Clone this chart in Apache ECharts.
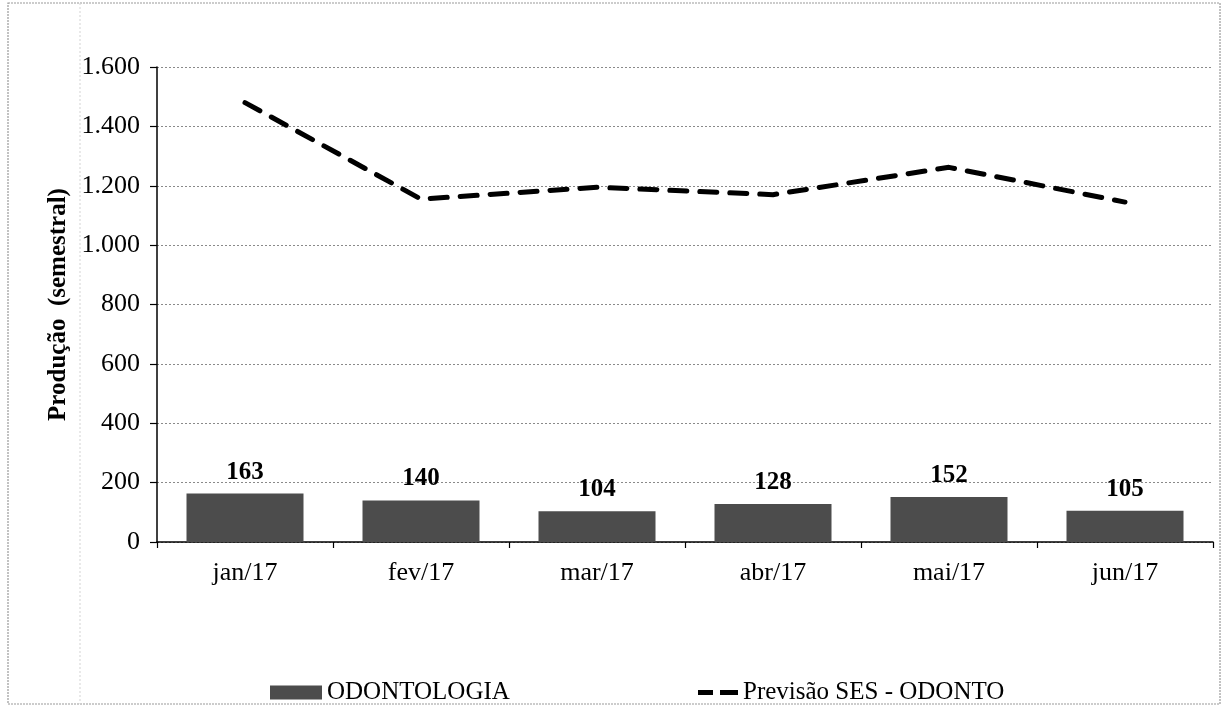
<!DOCTYPE html>
<html>
<head>
<meta charset="utf-8">
<script src="https://cdn.jsdelivr.net/npm/echarts@6/dist/echarts.min.js"></script>
<style>
html,body{margin:0;padding:0;background:#fff;}
#chart{width:1226px;height:708px;}
</style>
</head>
<body>
<div id="chart"></div>
<script>
const categories = ['jan/17', 'fev/17', 'mar/17', 'abr/17', 'mai/17', 'jun/17'];
const odontologia = [163, 140, 104, 128, 152, 105];
const previsao = [1480, 1155, 1195, 1170, 1262, 1145];
const yTicks = { min: 0, max: 1600, interval: 200 };
const seriesNames = ['ODONTOLOGIA', 'Previsão SES - ODONTO'];
const yTitle = 'Produção  (semestral)';

const FONT = '"Liberation Serif", "DejaVu Serif", serif';
const chart = echarts.init(document.getElementById('chart'), null, { renderer: 'canvas' });

function fmt(v) {
  return String(v).replace(/\B(?=(\d{3})+(?!\d))/g, '.');
}

chart.setOption({
  backgroundColor: '#ffffff',
  animation: false,
  grid: { left: 157, right: 13, top: 67, bottom: 166, containLabel: false },
  graphic: [
    { type: 'rect', shape: { x: 8, y: 3, width: 1212, height: 701 },
      style: { fill: 'none', stroke: '#9a9a9a', lineWidth: 1.2, lineDash: [2, 1] }, silent: true },
    { type: 'line', shape: { x1: 80, y1: 3, x2: 80, y2: 704 },
      style: { stroke: '#d4d4d4', lineWidth: 1, lineDash: [2, 2] }, silent: true }
  ],
  legend: [
    {
      data: [{ name: seriesNames[0], icon: 'rect' }],
      left: 265, top: 675,
      itemWidth: 52, itemHeight: 14, itemGap: 4,
      textStyle: { fontFamily: FONT, fontSize: 25, color: '#000' }
    },
    {
      data: [{ name: seriesNames[1], icon: 'path://M0,0 H15 V5 H0 Z M22,0 H40 V5 H22 Z' }],
      left: 693, top: 675,
      itemWidth: 40, itemHeight: 5, itemGap: 8,
      itemStyle: { color: '#000', borderWidth: 0 },
      lineStyle: { width: 0 },
      textStyle: { fontFamily: FONT, fontSize: 25, color: '#000' }
    }
  ],
  xAxis: {
    type: 'category',
    data: categories,
    boundaryGap: true,
    axisLine: { show: true, lineStyle: { color: '#000', width: 1.5 } },
    axisTick: { show: true, length: 6, lineStyle: { color: '#000', width: 1.2 } },
    axisLabel: { fontFamily: FONT, fontSize: 26, color: '#000', margin: 18 },
    splitLine: { show: false }
  },
  yAxis: {
    type: 'value',
    min: yTicks.min, max: yTicks.max, interval: yTicks.interval,
    name: yTitle,
    nameLocation: 'middle',
    nameGap: 80,
    nameTextStyle: { fontFamily: FONT, fontSize: 25, fontWeight: 'bold', color: '#000' },
    axisLine: { show: true, lineStyle: { color: '#000', width: 1.5 } },
    axisTick: { show: true, length: 7, lineStyle: { color: '#000', width: 1.2 } },
    axisLabel: { fontFamily: FONT, fontSize: 26, color: '#000', margin: 17, formatter: fmt },
    splitLine: { show: true, lineStyle: { color: '#8a8a8a', width: 1, type: [2, 2] } }
  },
  series: [
    {
      name: seriesNames[0],
      type: 'bar',
      data: odontologia,
      barWidth: 117,
      itemStyle: { color: '#4c4c4c' },
      label: {
        show: true, position: 'top', distance: 9,
        fontFamily: FONT, fontSize: 25, fontWeight: 'bold', color: '#000'
      }
    },
    {
      name: seriesNames[1],
      type: 'line',
      data: previsao,
      symbol: 'none',
      lineStyle: { color: '#000', width: 5, type: [17, 13], cap: 'round' },
      itemStyle: { color: '#000' }
    }
  ]
});
</script>
</body>
</html>
